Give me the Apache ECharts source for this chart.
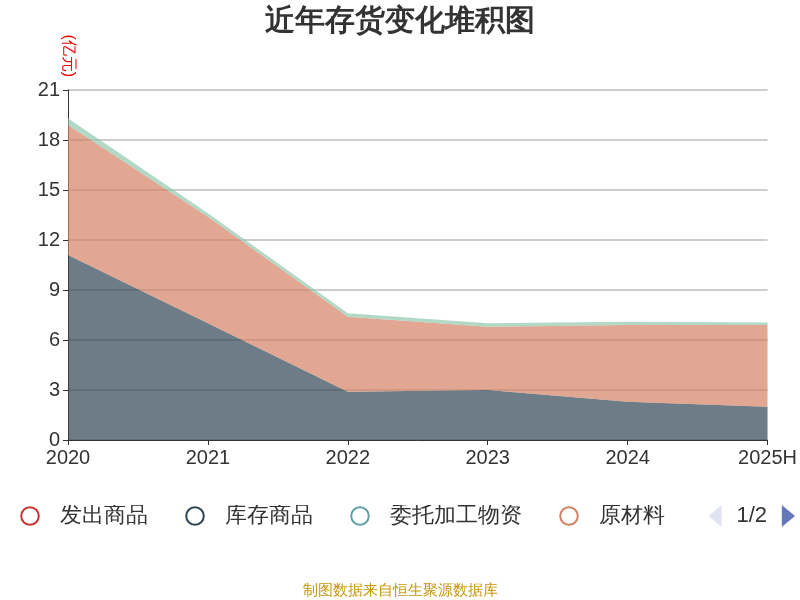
<!DOCTYPE html>
<html><head><meta charset="utf-8">
<script src="https://cdn.jsdelivr.net/npm/echarts@6/dist/echarts.min.js"></script>
<style>html,body{margin:0;padding:0}#main{width:800px;height:600px}</style>
</head><body><div id="main"></div>
<script>
var years = ['2020','2021','2022','2023','2024','2025H'];
var faChu = [0,0,0,0,0,0];
var kuCun = [11.1,7.0,2.9,3.0,2.3,2.0];
var weiTuo = [0,0,0,0,0,0];
var yuanCai = [7.8,6.4,4.5,3.8,4.6,4.9];
var zhouZhuan = [0.4,0.2,0.2,0.2,0.2,0.15];
var names = ['发出商品','库存商品','委托加工物资','原材料','周转材料'];
var data = [faChu,kuCun,weiTuo,yuanCai,zhouZhuan];
var colors = ['#c23531','#2f4554','#61a0a8','#d48265','#91c7ae'];

var chart = echarts.init(document.getElementById('main'));
chart.setOption({
  color: colors,
  title:{text:'近年存货变化堆积图',left:'center',top:2,textStyle:{fontSize:30,fontWeight:'bold',color:'#333'}},
  legend:{type:'scroll',bottom:68,left:0,right:10,itemWidth:50,itemHeight:22,itemGap:22,
    textStyle:{fontSize:22,color:'#333'},pageIconSize:22,pageTextStyle:{fontSize:22,color:'#333'},
    data:names},
  grid:{left:68,right:32,top:90,bottom:160},
  xAxis:{type:'category',boundaryGap:false,data:years,
    axisLine:{lineStyle:{color:'#333'}},axisTick:{show:true},
    axisLabel:{fontSize:20,color:'#333'}},
  yAxis:{type:'value',min:0,max:21,interval:3,name:'(亿元)',nameRotate:-90,
    nameLocation:'end',nameGap:-30,nameTextStyle:{color:'#e00',fontSize:16,padding:[0,0,0,-70]},
    axisLine:{show:true,lineStyle:{color:'#333'}},axisTick:{show:true},
    axisLabel:{fontSize:20,color:'#333'},splitLine:{lineStyle:{color:'#bbb',width:1.5}}},
  series: names.map(function(n,i){
    return {name:n,type:'line',stack:'total',data:data[i],showSymbol:false,symbolSize:22,
      lineStyle:{width:0},areaStyle:{opacity:0.7}};
  }),
  graphic:[{type:'text',left:'center',bottom:2,style:{text:'制图数据来自恒生聚源数据库',fill:'#c8960c',fontSize:15}}]
});
</script></body></html>
